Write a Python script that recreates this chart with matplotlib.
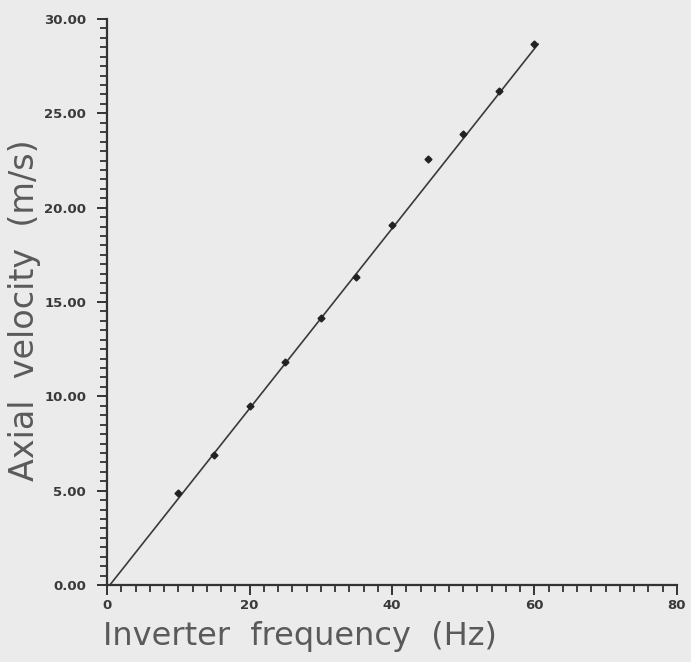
import matplotlib
matplotlib.use("Agg")
import matplotlib.pyplot as plt
from matplotlib.ticker import MultipleLocator, FormatStrFormatter

# measured points (inverter frequency vs axial velocity)
freq_hz = [10, 15, 20, 25, 30, 35, 40, 45, 50, 55, 60]
velocity = [4.9, 6.9, 9.5, 11.8, 14.15, 16.3, 19.1, 22.6, 23.9, 26.2, 28.7]

# straight-line fit drawn over the points
fit_slope = 0.477
fit_intercept = -0.19
fit_range = [0.4, 60.5]

x_ticks = [0, 20, 40, 60, 80]
y_ticks = [0, 5, 10, 15, 20, 25, 30]

bg = '#ebebeb'
ink = '#333333'

fig = plt.figure(figsize=(6.91, 6.62), dpi=100, facecolor=bg)
ax = fig.add_axes([0.1549, 0.1163, 0.8248, 0.855])
ax.set_facecolor(bg)

fit_y = [fit_slope * x + fit_intercept for x in fit_range]
ax.plot(fit_range, fit_y, color='#3a3a3a', linewidth=1.2)
ax.plot(freq_hz, velocity, linestyle='none', marker='D', markersize=3.5,
        color='#222222')

ax.set_xlim(0, 80)
ax.set_ylim(0, 30)
ax.set_xticks(x_ticks)
ax.set_yticks(y_ticks)
ax.xaxis.set_minor_locator(MultipleLocator(2))
ax.yaxis.set_minor_locator(MultipleLocator(0.5))
ax.yaxis.set_major_formatter(FormatStrFormatter('%.2f'))

for side in ['top', 'right']:
    ax.spines[side].set_visible(False)
for side in ['left', 'bottom']:
    ax.spines[side].set_color(ink)
    ax.spines[side].set_linewidth(1.6)

ax.tick_params(which='major', direction='out', length=7, width=1.4, color=ink,
               labelcolor='#3a3a3a', labelsize=9.5)
ax.tick_params(which='minor', direction='out', length=5, width=1.3, color=ink)
ax.tick_params(axis='y', which='major', pad=8)
ax.tick_params(axis='x', which='major', pad=3)
for lbl in ax.get_xticklabels() + ax.get_yticklabels():
    lbl.set_fontweight('bold')

fig.text(0.434, 0.038, 'Inverter  frequency  (Hz)', fontsize=23, color='#5a5a5a',
         ha='center', va='center')
fig.text(0.036, 0.532, 'Axial  velocity  (m/s)', fontsize=24, color='#5a5a5a',
         ha='center', va='center', rotation=90)

plt.savefig('out.png', dpi=100, facecolor=bg)
plt.close()
